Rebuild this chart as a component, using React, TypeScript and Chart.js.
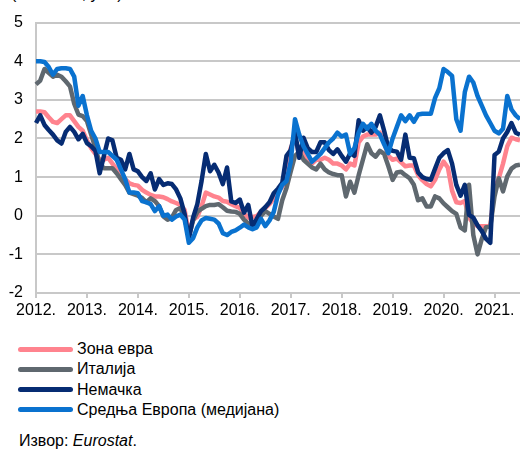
import React, { useEffect, useRef } from 'react';
import { Chart, registerables } from 'chart.js';

Chart.register(...registerables);

const years = [2012, 2013, 2014, 2015, 2016, 2017, 2018, 2019, 2020, 2021];
const monthsInLastYear = 7;
const yearLabels = years.map((y) => `${y}.`);

const seriesNames = ['Зона евра', 'Италија', 'Немачка', 'Средња Европа (медијана)'];
const seriesColors = ['#FF838E', '#5F686F', '#062C73', '#0A72CF'];

const euroArea = [
  2.7, 2.7, 2.68, 2.55, 2.43, 2.4, 2.5, 2.6, 2.6, 2.45, 2.3, 2.2,
  1.95, 1.75, 1.6, 1.45, 1.45, 1.5, 1.35, 1.2, 1.1, 0.95, 0.84, 0.8,
  0.78, 0.67, 0.6, 0.54, 0.5, 0.5, 0.48, 0.43, 0.37, 0.33, 0.28, 0.15,
  -0.45, -0.1, -0.03, 0.25, 0.6, 0.55, 0.5, 0.47, 0.38, 0.36, 0.3, 0.25,
  0.2, 0.05, -0.05, -0.03, -0.01, 0.1, 0.2, 0.3, 0.45, 0.62, 0.75, 0.95,
  1.75, 2.0, 1.6, 1.65, 1.4, 1.35, 1.45, 1.45, 1.5, 1.45, 1.35, 1.35,
  1.3, 1.2, 1.35, 1.3, 1.9, 2.05, 2.1, 2.1, 2.1, 2.15, 1.9, 1.55,
  1.45, 1.48, 1.38, 1.28, 1.3, 1.3, 1.05, 0.92, 0.82, 0.76, 0.93, 1.2,
  1.4, 1.25, 0.65, 0.35, 0.33, 0.38, -0.05, -0.2, -0.27, -0.27, -0.27, -0.27,
  0.7, 0.97, 1.35, 1.8, 2.02, 1.98, 1.95,
];

const italy = [
  3.4, 3.5, 3.8, 3.7, 3.6, 3.65, 3.6, 3.48, 3.35, 2.9, 2.62, 2.58,
  2.45, 2.1, 1.75, 1.35, 1.23, 1.23, 1.23, 1.1, 0.95, 0.8, 0.6, 0.56,
  0.52, 0.46, 0.35, 0.45, 0.38, 0.25, -0.02, -0.1, -0.05, 0.15, 0.2, -0.05,
  -0.55, -0.12, 0.1, 0.18, 0.25, 0.28, 0.28, 0.3, 0.22, 0.13, 0.11, 0.1,
  0.05, -0.1, -0.2, -0.27, -0.18, 0.0, 0.12, 0.05, -0.02, -0.08, 0.4, 0.72,
  1.15, 1.55, 1.65, 1.45, 1.35, 1.25, 1.2, 1.35, 1.2, 1.12, 1.08, 1.05,
  1.05, 0.5, 0.88, 0.6, 1.05, 1.45, 1.85, 1.62, 1.53, 1.68, 1.6, 1.28,
  0.93, 1.12, 1.14, 1.05, 0.97, 0.8, 0.4, 0.45, 0.24, 0.24, 0.5, 0.45,
  0.32, 0.22, 0.12, 0.05, -0.3, -0.38, 0.8, -0.5, -1.0, -0.6, -0.3, -0.28,
  0.5, 0.97, 0.63, 1.02, 1.22, 1.3, 1.32,
];

const germany = [
  2.4, 2.6, 2.35, 2.22, 2.1, 1.95, 1.87, 2.17, 2.3, 2.17, 1.98, 2.12,
  1.88, 1.8, 1.68, 1.1, 1.55, 2.0, 1.95, 1.5, 1.45, 1.2, 1.6, 1.2,
  1.15, 1.0, 0.9, 1.1, 0.68, 0.95, 0.8, 0.84, 0.82, 0.68, 0.45, 0.05,
  -0.6, -0.05, 0.3, 0.9, 1.6, 1.15, 1.32, 1.12, 0.82, 1.25, 0.37, 0.33,
  0.42, 0.08, 0.28, -0.28, -0.08, 0.12, 0.22, 0.35, 0.58, 0.7, 0.85, 1.55,
  1.7, 2.17, 1.5, 2.02, 1.75, 1.65, 1.65, 1.9, 1.9, 1.7, 1.6, 1.72,
  1.55, 1.4, 1.62, 1.55, 2.47, 2.2, 2.3, 2.15, 2.3, 2.6, 2.2, 1.75,
  1.68, 1.66, 1.45, 2.1, 1.5, 1.49, 1.12, 1.0, 0.95, 0.93, 1.22, 1.5,
  1.62, 1.7, 1.35, 0.8, 0.52, 0.8, 0.02, -0.05, -0.25, -0.4, -0.6, -0.7,
  1.57, 1.66, 2.0, 2.17, 2.4, 2.15, 2.1,
];

const centralEurope = [
  4.0, 4.0, 3.98, 3.85, 3.65, 3.8, 3.82, 3.82, 3.8, 3.6, 2.85, 3.1,
  2.6, 2.2, 2.0, 1.65, 1.65, 1.65, 1.55, 1.45, 1.2, 0.95, 0.6, 0.6,
  0.58, 0.38, 0.35, 0.3, 0.12, 0.25, 0.0, 0.03, -0.1, -0.02, 0.03, -0.1,
  -0.7, -0.58, -0.3, -0.12, -0.06, -0.08, -0.1, -0.2, -0.45, -0.5, -0.42, -0.38,
  -0.31, -0.23, -0.3, -0.35, -0.3, -0.08, -0.27, -0.12, 0.1, 0.55, 0.8, 0.9,
  1.4, 2.5, 2.1, 1.8, 1.6, 1.4, 1.5, 1.6, 1.75, 1.9, 2.0, 2.15,
  2.05, 2.1, 1.6, 1.75, 2.15, 2.38, 2.25, 2.38, 2.2, 2.1, 1.85, 1.62,
  2.0, 2.3, 2.6, 2.45, 2.6, 2.43, 2.62, 2.64, 2.64, 2.64, 3.05, 3.3,
  3.8, 3.72, 3.62, 2.5, 2.2, 3.2, 3.6, 3.45, 3.1, 2.85, 2.6, 2.4,
  2.2, 2.13, 2.25, 3.1, 2.75, 2.6, 2.5,
];

const FONT = '"Liberation Sans", Arial, sans-serif';
const GRID = '#C8C8C8';

export default function App() {
  const ref = useRef<HTMLCanvasElement | null>(null);

  useEffect(() => {
    document.body.style.margin = '0';
    const labels: string[] = [];
    years.forEach((y, yi) => {
      const n = yi === years.length - 1 ? monthsInLastYear : 12;
      for (let m = 1; m <= n; m++) labels.push(`${y}-${m}`);
    });
    const all = [euroArea, italy, germany, centralEurope];
    const order = [3, 2, 1, 0];
    const chart = new Chart(ref.current as HTMLCanvasElement, {
      type: 'line',
      data: {
        labels,
        datasets: all.map((d, i) => ({
          label: seriesNames[i],
          data: d,
          borderColor: seriesColors[i],
          backgroundColor: seriesColors[i],
          borderWidth: 4.5,
          pointRadius: 0,
          tension: 0,
          borderJoinStyle: 'round' as const,
          order: order[i],
        })),
      },
      options: {
        animation: false,
        responsive: false,
        maintainAspectRatio: false,
        layout: { padding: { top: 21, left: 0, right: 0, bottom: 0 } },
        plugins: { legend: { display: false }, tooltip: { enabled: false } },
        scales: {
          x: {
            type: 'category',
            afterFit: (s: any) => { s.height = 32; },
            grid: { display: true, drawOnChartArea: false, drawTicks: true, tickLength: 5, color: GRID, lineWidth: 2 },
            border: { display: true, color: GRID, width: 2 },
            ticks: {
              autoSkip: false,
              maxRotation: 0,
              padding: 3,
              color: '#000',
              font: { family: FONT, size: 16 },
              callback: (_v: any, index: number) => (index % 12 === 0 ? yearLabels[index / 12] : null),
            },
          },
          y: {
            min: -2,
            max: 5,
            afterFit: (s: any) => { s.width = 36; },
            grid: { color: GRID, lineWidth: 2, drawTicks: false },
            border: { display: true, color: GRID, width: 2 },
            ticks: { stepSize: 1, padding: 13, color: '#000', font: { family: FONT, size: 16 } },
          },
        },
      },
    });
    return () => chart.destroy();
  }, []);

  const rowTop = (i: number) => 339 + i * 20.3;

  return (
    <div style={{ position: 'absolute', left: 0, top: 0, width: 520, height: 452, overflow: 'hidden', background: '#fff', fontFamily: FONT, color: '#000' }}>
      <div style={{ position: 'absolute', left: 11, top: -14.5, fontSize: 16, lineHeight: '16px', whiteSpace: 'nowrap' }}>
        (мг. стопе, у %)
      </div>
      <canvas ref={ref} width={520} height={325} style={{ position: 'absolute', left: 0, top: 0, width: 520, height: 325 }} />
      {seriesNames.map((name, i) => (
        <div key={name} style={{ position: 'absolute', left: 18, top: rowTop(i), height: 20, display: 'flex', alignItems: 'center', whiteSpace: 'nowrap' }}>
          <div style={{ width: 55, height: 5, borderRadius: 3, background: seriesColors[i], marginRight: 4 }} />
          <span style={{ fontSize: 16 }}>{name}</span>
        </div>
      ))}
      <div style={{ position: 'absolute', left: 19, top: 431, height: 20, display: 'flex', alignItems: 'center', fontSize: 16, whiteSpace: 'nowrap' }}>
        <span>Извор:&nbsp;<i>Eurostat</i>.</span>
      </div>
    </div>
  );
}
